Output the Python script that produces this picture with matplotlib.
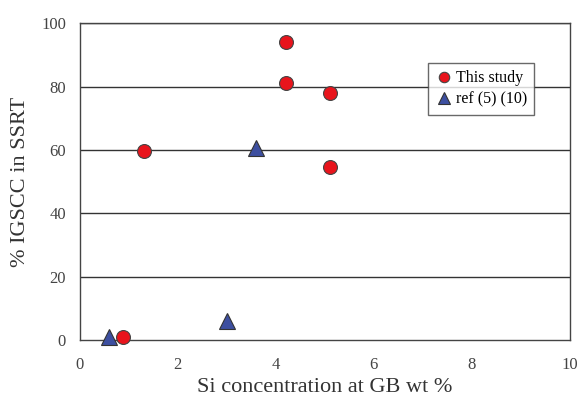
import matplotlib
matplotlib.use("Agg")
from matplotlib import pyplot as plt

plt.rcParams['font.family'] = ['Liberation Serif', 'DejaVu Serif']

# This study
study_x = [0.87, 1.3, 4.2, 4.2, 5.1, 5.1]
study_y = [1, 59.5, 94, 81, 78, 54.5]

# ref (5)(10)
ref_x = [0.6, 3.0, 3.6]
ref_y = [1, 6, 60.5]

xticks = [0, 2, 4, 6, 8, 10]
yticks = [0, 20, 40, 60, 80, 100]

fig = plt.figure(figsize=(5.79, 3.99), dpi=100)
ax = fig.add_axes([0.138, 0.148, 0.846, 0.794])

for y in yticks[1:]:
    ax.axhline(y, color='#333333', lw=1.0, zorder=1)

ax.plot(study_x, study_y, 'o', ms=10, mfc='#e8141c', mec='#444444', mew=0.8,
        label='This study', zorder=3, clip_on=False)
ax.plot(ref_x, ref_y, '^', ms=11, mfc='#3d4fa0', mec='#333333', mew=0.8,
        label='ref (5) (10)', zorder=3, clip_on=False)

ax.set_xlim(0, 10)
ax.set_ylim(0, 100)
ax.set_xticks(xticks)
ax.set_yticks(yticks)
ax.tick_params(length=0, labelsize=12, colors='#444444', pad=12)
ax.tick_params(axis='y', pad=10)
for s in ax.spines.values():
    s.set_color('#444444')
    s.set_linewidth(1.0)

ax.set_xlabel('Si concentration at GB wt %', fontsize=16, color='#333333', labelpad=4)
ax.set_ylabel('% IGSCC in SSRT', fontsize=16, color='#333333', labelpad=8)

leg = ax.legend(loc='upper left', bbox_to_anchor=(0.71, 0.874), frameon=True,
                fancybox=False, edgecolor='#444444', fontsize=11.5,
                handletextpad=0.2, handlelength=1.1, borderpad=0.45,
                labelspacing=0.35, markerscale=0.75, borderaxespad=0)
leg.get_frame().set_linewidth(1.0)

plt.savefig('out.png', dpi=100)
